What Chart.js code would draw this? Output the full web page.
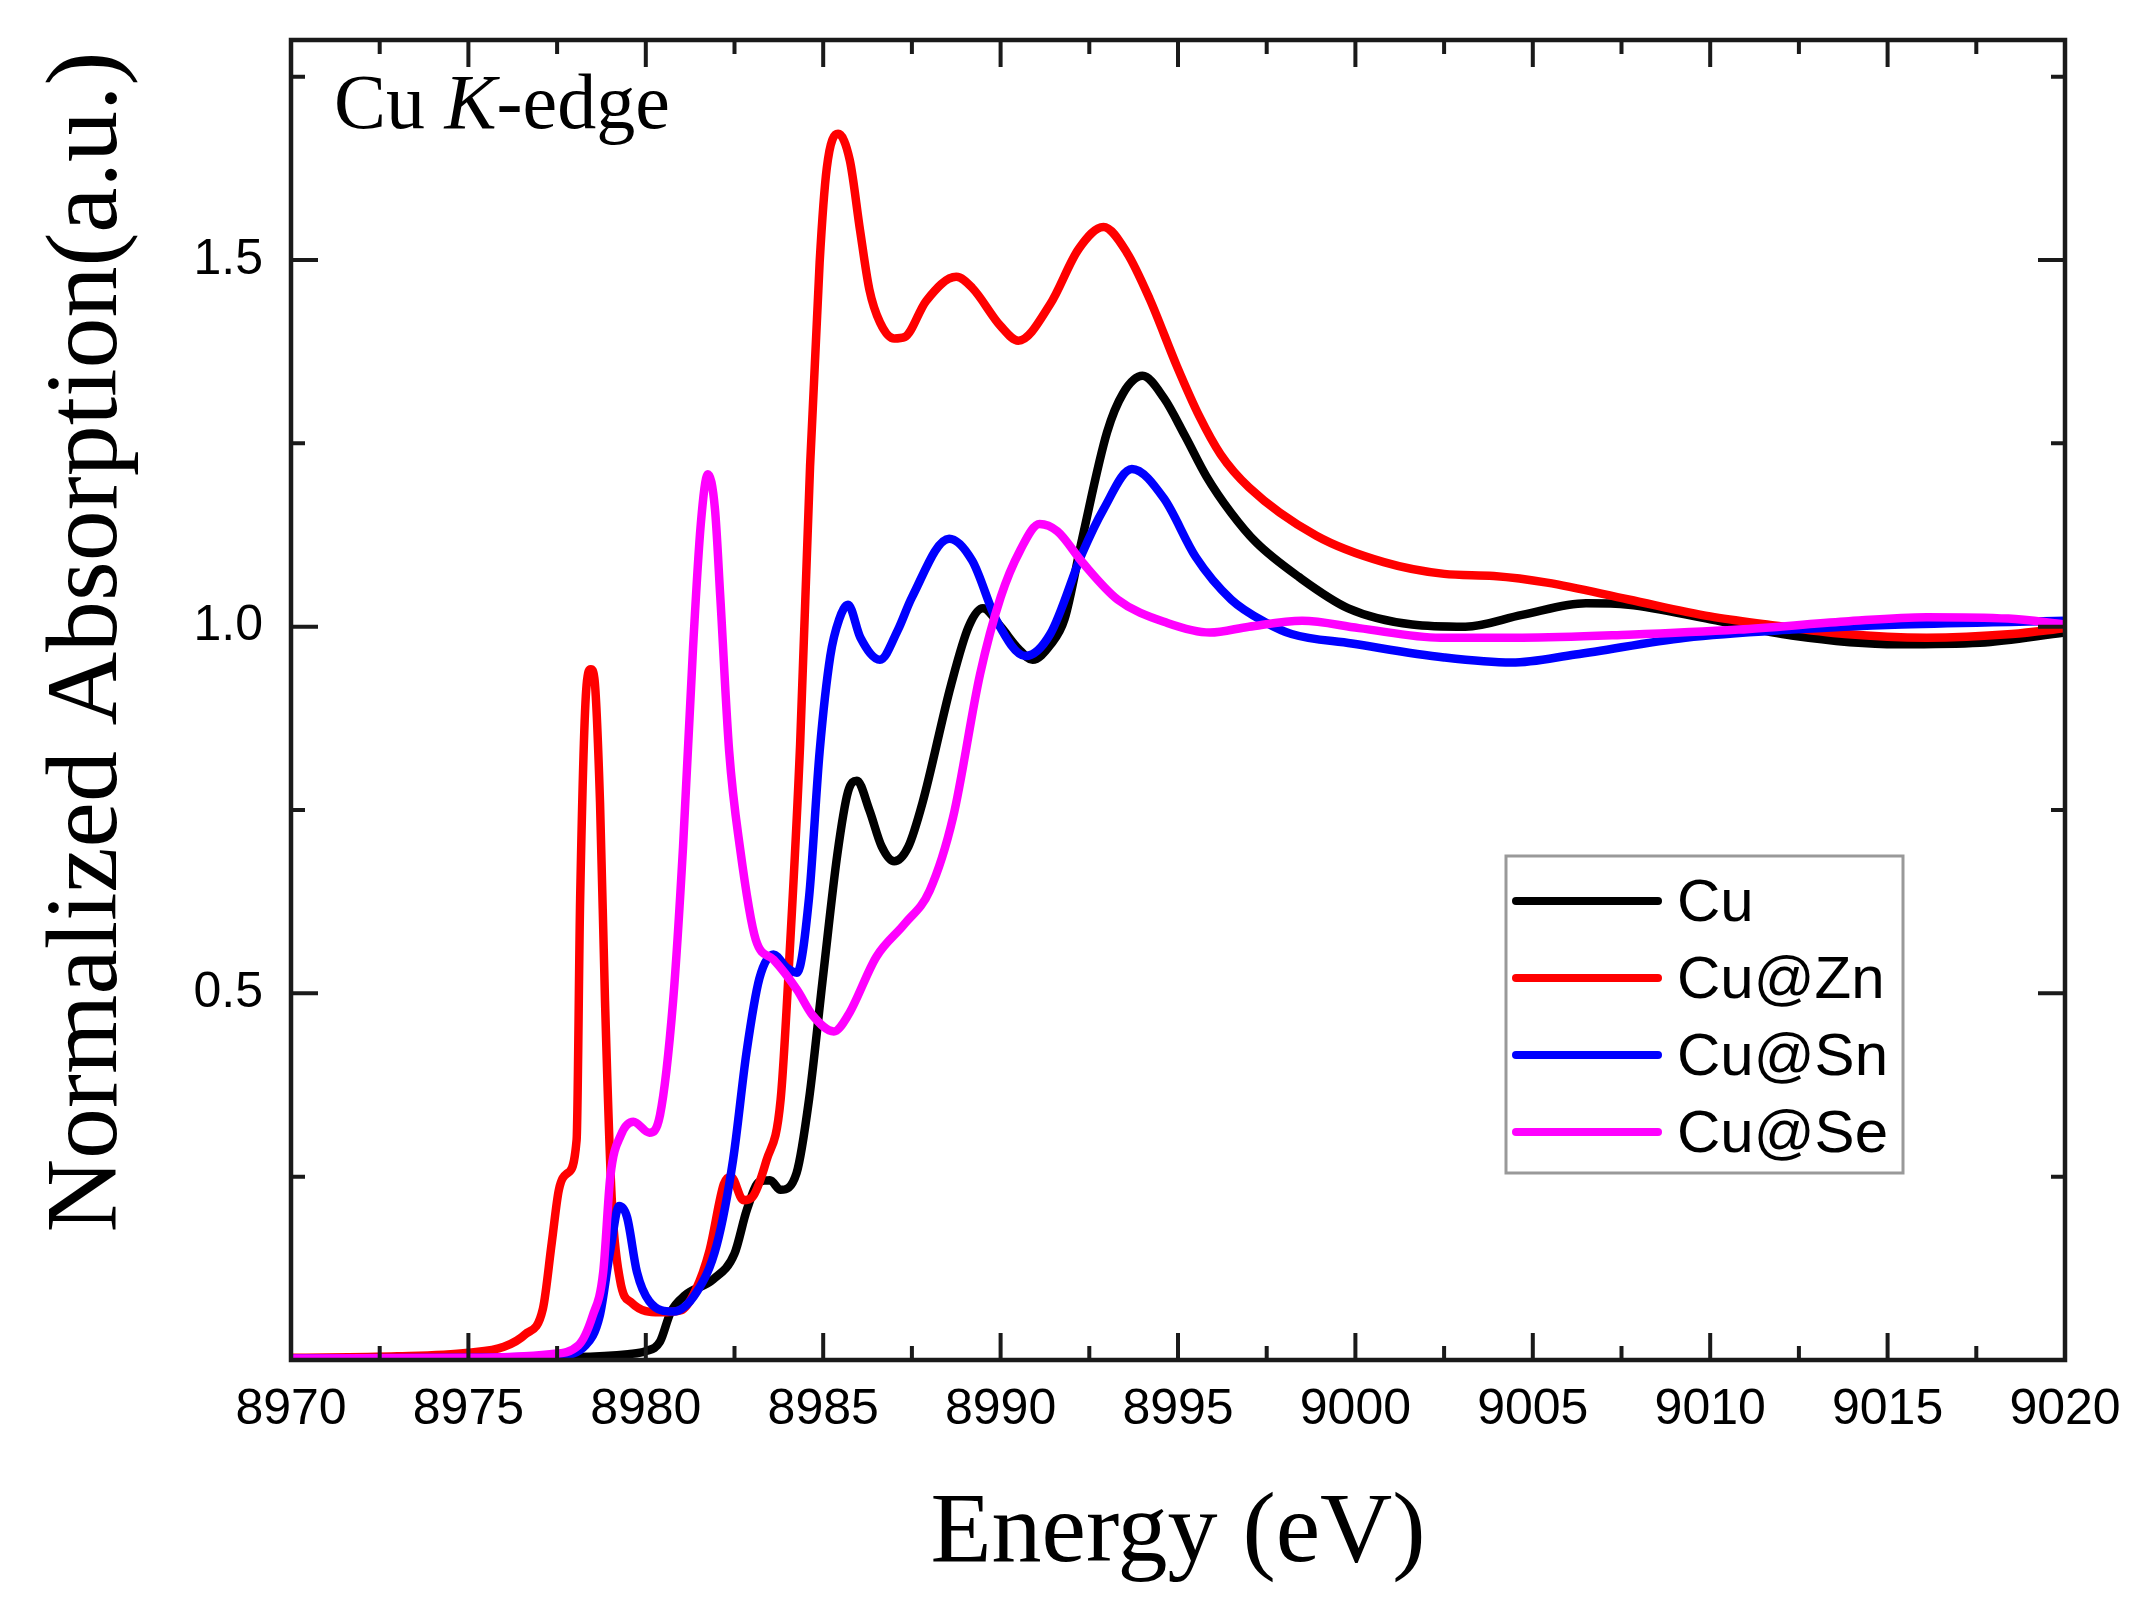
<!DOCTYPE html>
<html>
<head>
<meta charset="utf-8">
<script src="https://cdn.jsdelivr.net/npm/chart.js@4.4.1/dist/chart.umd.min.js"></script>
<style>
  html, body { margin: 0; padding: 0; background: #fff; }
</style>
</head>
<body>
<canvas id="xanesChart" width="2143" height="1608"></canvas>
<script>
// values (energy in eV, normalized absorption)
const energyCu = [8970, 8975, 8978, 8979.5, 8980.0, 8980.4, 8980.7, 8981.1, 8981.9, 8982.5, 8982.85, 8983.2, 8983.5, 8983.8, 8984.25, 8984.6, 8985.0, 8985.4, 8985.7, 8985.95, 8986.3, 8986.65, 8987.0, 8987.4, 8987.8, 8988.6, 8989.1, 8989.5, 8990.0, 8990.5, 8990.9, 8991.4, 8991.8, 8992.3, 8993.0, 8993.45, 8994.0, 8994.6, 8995.2, 8995.8, 8996.5, 8997.2, 8998.4, 8999.8, 9001.6, 9003.1, 9004.7, 9006.5, 9007.7, 9010.0, 9012.3, 9015.3, 9017.6, 9020];
const muCu = [0.002, 0.003, 0.004, 0.008, 0.012, 0.025, 0.065, 0.088, 0.11, 0.145, 0.205, 0.243, 0.245, 0.232, 0.255, 0.355, 0.525, 0.69, 0.775, 0.79, 0.75, 0.70, 0.68, 0.70, 0.76, 0.92, 1.0, 1.025, 1.0, 0.97, 0.955, 0.975, 1.01, 1.12, 1.265, 1.318, 1.342, 1.312, 1.26, 1.205, 1.155, 1.115, 1.068, 1.025, 1.003, 1.0, 1.016, 1.032, 1.03, 1.01, 0.988, 0.976, 0.978, 0.992];

const energyZn = [8970, 8973, 8975, 8976, 8976.6, 8977.1, 8977.35, 8977.55, 8977.8, 8978.05, 8978.15, 8978.33, 8978.45, 8978.55, 8978.71, 8978.85, 8979.04, 8979.27, 8979.6, 8980.4, 8981.0, 8981.4, 8981.8, 8982.2, 8982.4, 8982.75, 8983.0, 8983.4, 8983.8, 8984.06, 8984.35, 8984.63, 8984.9, 8985.1, 8985.42, 8985.75, 8986.04, 8986.3, 8986.6, 8987.0, 8987.3, 8987.9, 8988.75, 8989.2, 8990.0, 8990.5, 8991.4, 8992.2, 8992.9, 8993.56, 8994.2, 8994.97, 8995.6, 8996.2, 8997.0, 8998.9, 9000.8, 9002.5, 9003.9, 9005.4, 9007.7, 9010.0, 9011.6, 9013.8, 9016.1, 9018.5, 9020];
const muZn = [0.003, 0.005, 0.01, 0.018, 0.035, 0.07, 0.16, 0.232, 0.255, 0.30, 0.63, 0.92, 0.942, 0.93, 0.76, 0.49, 0.22, 0.11, 0.078, 0.065, 0.068, 0.095, 0.15, 0.24, 0.25, 0.218, 0.222, 0.272, 0.355, 0.56, 0.84, 1.219, 1.497, 1.625, 1.672, 1.636, 1.54, 1.46, 1.415, 1.393, 1.395, 1.444, 1.477, 1.462, 1.41, 1.39, 1.44, 1.515, 1.545, 1.51, 1.447, 1.355, 1.287, 1.235, 1.19, 1.124, 1.088, 1.072, 1.069, 1.06, 1.037, 1.014, 1.003, 0.99, 0.985, 0.99, 0.998];

const energySn = [8970, 8975, 8977.5, 8978.3, 8978.7, 8979.0, 8979.25, 8979.47, 8979.75, 8980.1, 8980.77, 8981.44, 8982.0, 8982.46, 8982.84, 8983.2, 8983.6, 8983.97, 8984.26, 8984.6, 8984.9, 8985.2, 8985.45, 8985.7, 8986.05, 8986.6, 8987.1, 8987.5, 8988.55, 8989.2, 8989.9, 8990.7, 8991.4, 8992.3, 8992.9, 8993.7, 8994.6, 8995.5, 8996.5, 8997.5, 8998.2, 8999.9, 9002.5, 9004.4, 9006.2, 9009.3, 9012.3, 9015.4, 9020];
const muSn = [0.002, 0.003, 0.006, 0.02, 0.06, 0.15, 0.21, 0.195, 0.12, 0.08, 0.066, 0.093, 0.157, 0.273, 0.42, 0.52, 0.553, 0.535, 0.528, 0.63, 0.83, 0.96, 1.01, 1.03, 0.985, 0.955, 0.995, 1.04, 1.12, 1.09, 1.007, 0.96, 0.99, 1.1, 1.16, 1.215, 1.175, 1.095, 1.037, 1.005, 0.99, 0.977, 0.958, 0.951, 0.962, 0.985, 0.996, 1.003, 1.008];

const energySe = [8970, 8975, 8977.3, 8978.1, 8978.5, 8978.8, 8979.0, 8979.3, 8979.65, 8980.1, 8980.4, 8980.77, 8981.05, 8981.33, 8981.55, 8981.75, 8981.95, 8982.1, 8982.35, 8982.65, 8983.1, 8983.6, 8984.26, 8984.7, 8985.3, 8985.7, 8986.5, 8987.3, 8988.0, 8988.66, 8989.42, 8990.0, 8990.55, 8991.1, 8991.6, 8992.3, 8993.3, 8994.7, 8995.9, 8997.0, 8998.5, 9000.1, 9002.4, 9004.7, 9007.7, 9010.8, 9013.8, 9016.1, 9018.4, 9020];
const muSe = [0.002, 0.003, 0.008, 0.02, 0.06, 0.12, 0.25, 0.307, 0.325, 0.31, 0.334, 0.49, 0.70, 0.97, 1.14, 1.208, 1.16, 1.04, 0.83, 0.70, 0.573, 0.546, 0.505, 0.47, 0.448, 0.47, 0.55, 0.595, 0.64, 0.74, 0.935, 1.04, 1.104, 1.14, 1.13, 1.088, 1.037, 1.005, 0.992, 1.0, 1.008, 0.998, 0.985, 0.985, 0.989, 0.996, 1.007, 1.013, 1.011, 1.003];

const seriesNames = ['Cu', 'Cu@Zn', 'Cu@Sn', 'Cu@Se'];
const seriesColors = ['#000000', '#ff0000', '#0000ff', '#ff00ff'];
const xTickLabels = ['8970', '8975', '8980', '8985', '8990', '8995', '9000', '9005', '9010', '9015', '9020'];
const yTickLabels = ['0.5', '1.0', '1.5'];

function toPoints(xs, ys) {
    return xs.map((x, i) => ({ x: x, y: ys[i] }));
}

const allSeries = [
    toPoints(energyCu, muCu),
    toPoints(energyZn, muZn),
    toPoints(energySn, muSn),
    toPoints(energySe, muSe),
];

const sansFont = "'Liberation Sans', Arial, sans-serif";
const serifFont = "'Liberation Serif', 'Times New Roman', serif";

// frame, inward ticks, titles, label and legend
const decorations = {
    id: 'decorations',
    afterDatasetsDraw(chart) {
        const { ctx, chartArea: a, scales } = chart;
        const xs = scales.x, ys = scales.y;
        ctx.save();
        ctx.strokeStyle = '#1a1a1a';
        ctx.lineCap = 'butt';

        // ticks
        ctx.lineWidth = 4;
        for (let v = 8970; v <= 9020; v += 2.5) {
            const px = xs.getPixelForValue(v);
            const len = (v % 5 === 0) ? 27 : 14;
            ctx.beginPath();
            ctx.moveTo(px, a.bottom); ctx.lineTo(px, a.bottom - len);
            ctx.moveTo(px, a.top); ctx.lineTo(px, a.top + len);
            ctx.stroke();
        }
        for (let k = 0; k <= 7; k++) {
            const v = k * 0.25;
            const py = ys.getPixelForValue(v);
            const len = (k % 2 === 0) ? 27 : 14;
            ctx.beginPath();
            ctx.moveTo(a.left, py); ctx.lineTo(a.left + len, py);
            ctx.moveTo(a.right, py); ctx.lineTo(a.right - len, py);
            ctx.stroke();
        }

        // frame
        ctx.lineWidth = 4.5;
        ctx.strokeRect(a.left, a.top, a.right - a.left, a.bottom - a.top);

        // axis titles
        ctx.fillStyle = '#000';
        ctx.font = '100px ' + serifFont;
        ctx.textAlign = 'center';
        ctx.textBaseline = 'alphabetic';
        ctx.fillText('Energy (eV)', (a.left + a.right) / 2, 1561);

        ctx.save();
        ctx.translate(116, 642);
        ctx.rotate(-Math.PI / 2);
        ctx.font = '102px ' + serifFont;
        ctx.fillText('Normalized Absorption(a.u.)', 0, 0);
        ctx.restore();

        // Cu K-edge label
        ctx.textAlign = 'left';
        let tx = 334;
        const ty = 128;
        ctx.font = '78px ' + serifFont;
        ctx.fillText('Cu ', tx, ty);
        tx += ctx.measureText('Cu ').width;
        ctx.font = 'italic 78px ' + serifFont;
        ctx.fillText('K', tx, ty);
        tx += ctx.measureText('K').width;
        ctx.font = '78px ' + serifFont;
        ctx.fillText('-edge', tx, ty);

        // legend box
        ctx.fillStyle = '#fff';
        ctx.fillRect(1506, 856, 397, 317);
        ctx.strokeStyle = '#999';
        ctx.lineWidth = 3;
        ctx.strokeRect(1506, 856, 397, 317);
        const rowY = [901, 978, 1055, 1132];
        ctx.font = '60px ' + sansFont;
        ctx.textBaseline = 'middle';
        chart.data.datasets.forEach((ds, i) => {
            ctx.strokeStyle = ds.borderColor;
            ctx.lineWidth = 8;
            ctx.lineCap = 'round';
            ctx.beginPath();
            ctx.moveTo(1516, rowY[i]);
            ctx.lineTo(1658, rowY[i]);
            ctx.stroke();
            ctx.fillStyle = '#000';
            ctx.fillText(ds.label, 1677, rowY[i] + 3);
        });
        ctx.restore();
    }
};

function noPad(s) {
    s.paddingTop = 0;
    s.paddingBottom = 0;
    s.paddingLeft = 0;
    s.paddingRight = 0;
}

const ctx = document.getElementById('xanesChart').getContext('2d');

const chartConfig = {
    type: 'line',
    data: {
        datasets: allSeries.map((pts, i) => ({
            label: seriesNames[i],
            data: pts,
            borderColor: seriesColors[i],
            borderWidth: 8.5,
            pointRadius: 0,
            fill: false,
            cubicInterpolationMode: 'monotone',
            order: 4 - i,
        })),
    },
    options: {
        responsive: false,
        devicePixelRatio: 1,
        animation: false,
        layout: { padding: { top: 40, right: 78, left: 0, bottom: 0 } },
        plugins: {
            legend: { display: false },
            tooltip: { enabled: false },
        },
        scales: {
            x: {
                type: 'linear',
                position: 'bottom',
                min: 8970,
                max: 9020,
                afterFit: (s) => { s.height = 248; noPad(s); },
                afterBuildTicks: (s) => { s.ticks = xTickLabels.map(t => ({ value: Number(t) })); },
                ticks: {
                    callback: (v) => xTickLabels.find(t => Number(t) === v) || '',
                    color: '#000',
                    font: { family: sansFont, size: 50 },
                    padding: 20,
                    maxRotation: 0,
                    autoSkip: false,
                },
                grid: { display: false, drawTicks: false },
                border: { display: false },
            },
            y: {
                min: 0,
                max: 1.8,
                afterFit: (s) => { s.width = 291; noPad(s); },
                afterBuildTicks: (s) => { s.ticks = yTickLabels.map(t => ({ value: Number(t) })); },
                ticks: {
                    callback: (v) => yTickLabels.find(t => Number(t) === v) || '',
                    color: '#000',
                    font: { family: sansFont, size: 50 },
                    padding: 28,
                    autoSkip: false,
                },
                grid: { display: false, drawTicks: false },
                border: { display: false },
            },
        },
    },
    plugins: [decorations],
};

let chart = new Chart(ctx, chartConfig);
</script>
</body>
</html>
